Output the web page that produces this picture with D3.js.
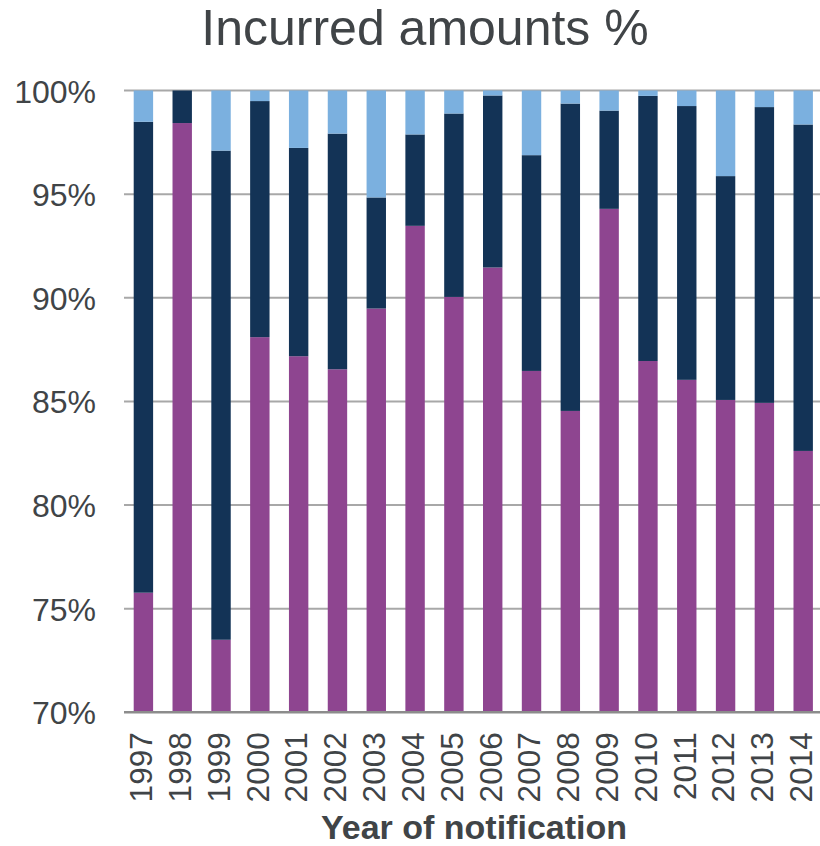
<!DOCTYPE html>
<html><head><meta charset="utf-8">
<script src="https://cdn.jsdelivr.net/npm/d3@7"></script>
<style>body{margin:0;background:#fff;}svg{display:block;font-family:Arial,"Liberation Sans",sans-serif;}</style>
</head><body>
<svg id="c" width="820" height="846"></svg>
<script>
const years = ["1997","1998","1999","2000","2001","2002","2003","2004","2005","2006","2007","2008","2009","2010","2011","2012","2013","2014"];
// cumulative tops (%)
const purpleShare = [75.77,98.43,73.5,88.1,87.18,86.55,89.48,93.47,90.04,91.46,86.47,84.54,94.29,86.95,86.04,85.07,84.93,82.61];
const navyTop = [98.49,100,97.1,99.49,97.23,97.92,94.84,97.88,98.89,99.76,96.88,99.37,99.03,99.74,99.25,95.87,99.2,98.36];
const yTicks = [70,75,80,85,90,95,100];
const seriesKeys = ["purple","navy","light"];
const seriesColors = ["#8E4590","#133356","#7BB0DF"];

const rows = years.map((y,i)=>({year:y, purple:purpleShare[i], navy:navyTop[i]-purpleShare[i], light:100-navyTop[i]}));
const stacked = d3.stack().keys(seriesKeys)(rows);

const svg = d3.select("#c");
const x = d3.scaleBand().domain(years).range([124,822.6]).paddingInner(0.5).paddingOuter(0.25);
const y = d3.scaleLinear().domain([70,100]).range([712.3,90.5]);

const txt = "#404447";

// gridlines
svg.append("g").selectAll("line").data(yTicks.filter(t=>t>70)).join("line")
  .attr("x1",124).attr("x2",820).attr("y1",d=>y(d)).attr("y2",d=>y(d))
  .attr("stroke","#A8A8A8").attr("stroke-width",2);

// bars
svg.append("g").selectAll("g").data(stacked).join("g")
  .attr("fill",(d,i)=>seriesColors[i])
  .selectAll("rect").data(d=>d).join("rect")
  .attr("x",d=>x(d.data.year)).attr("width",x.bandwidth())
  .attr("y",d=>y(Math.min(d[1],100))).attr("height",d=>Math.max(0,y(Math.max(d[0],70))-y(Math.min(d[1],100))));

// x axis line
svg.append("line").attr("x1",124).attr("x2",820).attr("y1",y(70)).attr("y2",y(70))
  .attr("stroke","#8C8C8C").attr("stroke-width",2.5);

// y axis
const yAxis = d3.axisLeft(y).tickValues(yTicks).tickFormat(d=>d+"%").tickSize(0).tickPadding(28);
const gy = svg.append("g").attr("transform","translate(124,0)").call(yAxis);
gy.select(".domain").remove();
gy.selectAll("text").attr("fill",txt).style("font-size","32px").attr("dy","0.36em");

// x axis
const xAxis = d3.axisBottom(x).tickSize(0);
const gx = svg.append("g").attr("transform",`translate(0,${y(70)})`).call(xAxis);
gx.select(".domain").remove();
gx.selectAll("text").attr("fill",txt).style("font-size","31.5px")
  .attr("text-anchor","end").attr("transform","rotate(-90)")
  .attr("x",-20).attr("y",0).attr("dy","0.28em");

// titles
svg.append("text").attr("x",425).attr("y",45).attr("text-anchor","middle")
  .attr("fill",txt).style("font-size","50px").text("Incurred amounts %");
svg.append("text").attr("x",474).attr("y",839).attr("text-anchor","middle")
  .attr("fill",txt).style("font-size","34px").style("font-weight","bold").text("Year of notification");
</script>
</body></html>
